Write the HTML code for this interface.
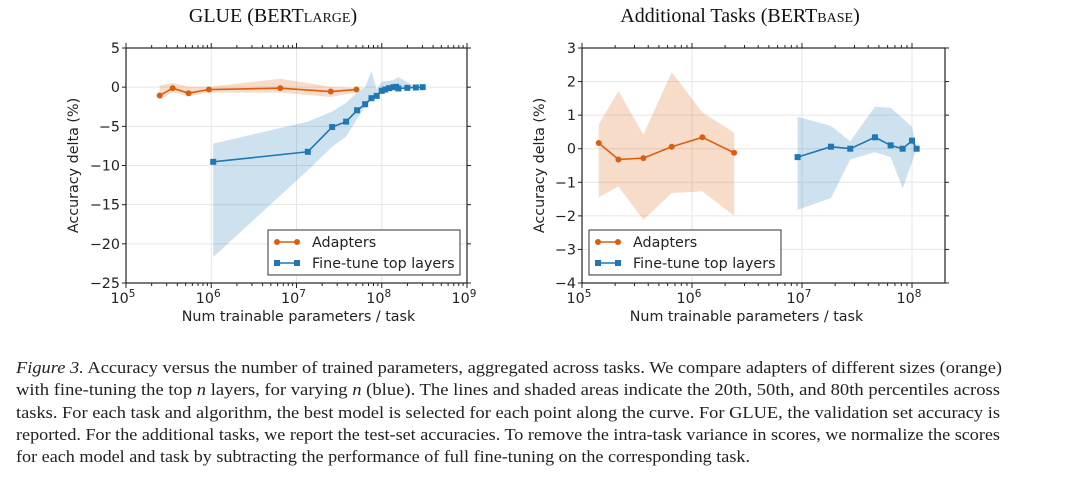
<!DOCTYPE html>
<html><head><meta charset="utf-8">
<style>
html,body{margin:0;padding:0;background:#fff;}
svg{display:block;}
.tk{font-family:"DejaVu Sans","Liberation Sans",sans-serif;font-size:14.3px;fill:#222;}
.ttl{font-family:"Liberation Serif",serif;font-size:20px;fill:#111;}
.cap{font-family:"Liberation Serif",serif;font-size:16.5px;fill:#222;}
</style></head>
<body>
<svg id="fig" width="1080" height="483" viewBox="0 0 1080 483" xmlns="http://www.w3.org/2000/svg">
<text class="ttl" x="273" y="22" text-anchor="middle">GLUE (BERT<tspan font-size="14">LARGE</tspan>)</text>
<text class="ttl" x="740" y="22" text-anchor="middle">Additional Tasks (BERT<tspan font-size="14">BASE</tspan>)</text>
<g id="c1"></g>
<g id="c2"></g>
<g>
<text class="cap" x="16" y="373" textLength="986" lengthAdjust="spacingAndGlyphs"><tspan font-style="italic">Figure 3.</tspan>  Accuracy versus the number of trained parameters, aggregated across tasks. We compare adapters of different sizes (orange)</text>
<text class="cap" x="16" y="395" textLength="984" lengthAdjust="spacingAndGlyphs">with fine-tuning the top <tspan font-style="italic">n</tspan> layers, for varying <tspan font-style="italic">n</tspan> (blue). The lines and shaded areas indicate the 20th, 50th, and 80th percentiles across</text>
<text class="cap" x="16" y="418" textLength="984" lengthAdjust="spacingAndGlyphs">tasks. For each task and algorithm, the best model is selected for each point along the curve. For GLUE, the validation set accuracy is</text>
<text class="cap" x="16" y="440" textLength="984" lengthAdjust="spacingAndGlyphs">reported. For the additional tasks, we report the test-set accuracies. To remove the intra-task variance in scores, we normalize the scores</text>
<text class="cap" x="16" y="462" textLength="734" lengthAdjust="spacingAndGlyphs">for each model and task by subtracting the performance of full fine-tuning on the corresponding task.</text>
</g>
</svg>
<script>
// GLUE chart data (x = log10 params)
const g_adX = [5.395,5.547,5.734,5.973,6.809,7.402,7.703];
const g_adY = [-1.07,-0.13,-0.77,-0.30,-0.13,-0.56,-0.30];
const g_adHi = [0.2,0.55,0.05,0.05,1.07,0.05,-0.1];
const g_adLo = [-1.6,-0.65,-1.15,-0.7,-0.7,-1.25,-0.65];
const g_ftX = [6.023,7.133,7.418,7.582,7.711,7.805,7.879,7.941,8.0,8.04,8.086,8.137,8.168,8.195,8.30,8.40,8.48];
const g_ftY = [-9.53,-8.25,-5.09,-4.4,-2.95,-2.18,-1.41,-1.11,-0.47,-0.3,-0.13,0,0.04,-0.17,-0.09,-0.04,0];
const g_ftHi = [-7.2,-4.4,-3.1,-2.0,-0.7,0,2.05,-0.3,0.7,0.75,0.8,0.9,1.1,1.3,0.6,0.1,0];
const g_ftLo = [-21.7,-10.6,-7.6,-6.3,-4.05,-2.45,-1.6,-1.15,-0.7,-0.5,-0.4,-0.3,-0.3,-0.3,-0.1,-0.05,0];
const g_yTicks = [5,0,-5,-10,-15,-20,-25];
const g_xTicks = [5,6,7,8,9];
// Additional tasks data
const a_adX = [5.152,5.331,5.558,5.816,6.094,6.383];
const a_adY = [0.17,-0.32,-0.28,0.06,0.34,-0.12];
const a_adHi = [0.72,1.72,0.42,2.28,1.08,0.48];
const a_adLo = [-1.45,-1.12,-2.12,-1.32,-1.27,-2.0];
const a_ftX = [6.96,7.263,7.439,7.663,7.806,7.915,8.0,8.042];
const a_ftY = [-0.25,0.06,0,0.34,0.1,0,0.24,0];
const a_ftHi = [0.95,0.68,0.22,1.25,1.22,0.9,0.65,0];
const a_ftLo = [-1.82,-1.47,-0.32,-0.1,-0.25,-1.18,-0.4,0];
const a_yTicks = [3,2,1,0,-1,-2,-3,-4];
const a_xTicks = [5,6,7,8];

const NS="http://www.w3.org/2000/svg";
function mk(parent,tag,attrs){const e=document.createElementNS(NS,tag);for(const k in attrs)e.setAttribute(k,attrs[k]);parent.appendChild(e);return e;}
const OR="#d95f0e", BL="#1f77b4";

function chart(g,cfg){
  const {L,R,T,B,x0,x1,y0,y1}=cfg;
  const sx=v=>L+(v-x0)/(x1-x0)*(R-L);
  const sy=v=>T+(y1-v)/(y1-y0)*(B-T);
  cfg.yTicks.forEach(v=>{const l=mk(g,'line',{x1:L,x2:R,y1:sy(v),y2:sy(v),stroke:'#e6e6e6','stroke-width':1});
    
    });
  cfg.xTicks.forEach(v=>{const l=mk(g,'line',{x1:sx(v),x2:sx(v),y1:T,y2:B,stroke:'#e6e6e6','stroke-width':1});
    
    });
  function band(xs,hi,lo,color,name){
    let d='M'+xs.map((x,i)=>sx(x)+','+sy(hi[i])).join('L');
    for(let i=xs.length-1;i>=0;i--)d+='L'+sx(xs[i])+','+sy(lo[i]);
    const p=mk(g,'path',{d:d+'Z',fill:color,'fill-opacity':0.22,stroke:'none'});
    
    
  }
  function line(xs,ys,color,name,sq){
    const p=mk(g,'polyline',{points:xs.map((x,i)=>sx(x)+','+sy(ys[i])).join(' '),fill:'none',stroke:color,'stroke-width':1.6});
    
    
    xs.forEach((x,i)=>{
      let m;
      if(sq)m=mk(g,'rect',{x:sx(x)-3,y:sy(ys[i])-3,width:6,height:6,fill:color});
      else m=mk(g,'circle',{cx:sx(x),cy:sy(ys[i]),r:3,fill:color});
      
      
    });
  }
  band(cfg.adX,cfg.adHi,cfg.adLo,OR,'adapters-band');
  band(cfg.ftX,cfg.ftHi,cfg.ftLo,BL,'finetune-band');
  line(cfg.adX,cfg.adY,OR,'adapters',false);
  line(cfg.ftX,cfg.ftY,BL,'finetune',true);
  const fr=mk(g,'rect',{x:L,y:T,width:R-L,height:B-T,fill:'none',stroke:'#222','stroke-width':1.2});
  
  
  cfg.yTicks.forEach(v=>{
    mk(g,'line',{x1:L-4,x2:L,y1:sy(v),y2:sy(v),stroke:'#222'});
    mk(g,'line',{x1:R,x2:R+4,y1:sy(v),y2:sy(v),stroke:'#222'});
    const t=mk(g,'text',{x:L-6,y:sy(v)+5,'text-anchor':'end',class:'tk'});
    t.textContent=(v<0?'\u2212'+(-v):''+v);
    
    
  });
  for(let d=Math.floor(x0);d<=Math.ceil(x1);d++){
    for(let k=1;k<10;k++){
      const v=d+Math.log10(k); if(v<x0-1e-9||v>x1+1e-9)continue;
      const len=k==1?5:3;
      mk(g,'line',{x1:sx(v),x2:sx(v),y1:B,y2:B+len,stroke:'#222'});
      mk(g,'line',{x1:sx(v),x2:sx(v),y1:T-len,y2:T,stroke:'#222'});
    }
  }
  cfg.xTicks.forEach(v=>{
    const t=mk(g,'text',{x:sx(v)-3,y:B+20,'text-anchor':'middle',class:'tk'});
    t.textContent='10';
    const s=mk(t,'tspan',{dy:-6,'font-size':10.5});s.textContent=v;
    
    
  });
  const xl=mk(g,'text',{x:(L+R)/2-cfg.xlOff,y:B+38,'text-anchor':'middle',class:'tk'});
  xl.textContent='Num trainable parameters / task';
  
  
  const yl=mk(g,'text',{x:0,y:0,'text-anchor':'middle',class:'tk',transform:`translate(${cfg.ylX},${(T+B)/2}) rotate(-90)`});
  yl.textContent='Accuracy delta (%)';
  
  
  const lg=mk(g,'g',{});
  
  
  const lx=cfg.lgX,ly=230;
  mk(lg,'rect',{x:lx,y:ly,width:192,height:45,fill:'#fff',stroke:'#333','stroke-width':1});
  const e1=mk(lg,'g',{});
  
  
  mk(e1,'line',{x1:lx+8,x2:lx+30,y1:ly+12,y2:ly+12,stroke:OR,'stroke-width':1.6});
  mk(e1,'circle',{cx:lx+9,cy:ly+12,r:3,fill:OR});mk(e1,'circle',{cx:lx+29,cy:ly+12,r:3,fill:OR});
  const t1=mk(e1,'text',{x:lx+44,y:ly+17,class:'tk'});t1.textContent='Adapters';
  const e2=mk(lg,'g',{});
  
  
  mk(e2,'line',{x1:lx+8,x2:lx+30,y1:ly+33,y2:ly+33,stroke:BL,'stroke-width':1.6});
  mk(e2,'rect',{x:lx+6,y:ly+30,width:6,height:6,fill:BL});mk(e2,'rect',{x:lx+26,y:ly+30,width:6,height:6,fill:BL});
  const t2=mk(e2,'text',{x:lx+44,y:ly+38,class:'tk'});t2.textContent='Fine-tune top layers';
}
chart(document.getElementById('c1'),{L:126,R:467,T:48,B:283,x0:5,x1:9,y0:-25,y1:5,yTicks:g_yTicks,xTicks:g_xTicks,
  adX:g_adX,adY:g_adY,adHi:g_adHi,adLo:g_adLo,ftX:g_ftX,ftY:g_ftY,ftHi:g_ftHi,ftLo:g_ftLo,ylX:78,lgX:268,xlOff:-2});
chart(document.getElementById('c2'),{L:582,R:945,T:48,B:283,x0:5,x1:8.3,y0:-4,y1:3,yTicks:a_yTicks,xTicks:a_xTicks,
  adX:a_adX,adY:a_adY,adHi:a_adHi,adLo:a_adLo,ftX:a_ftX,ftY:a_ftY,ftHi:a_ftHi,ftLo:a_ftLo,ylX:544,lgX:589,xlOff:17});
</script>
</body></html>
